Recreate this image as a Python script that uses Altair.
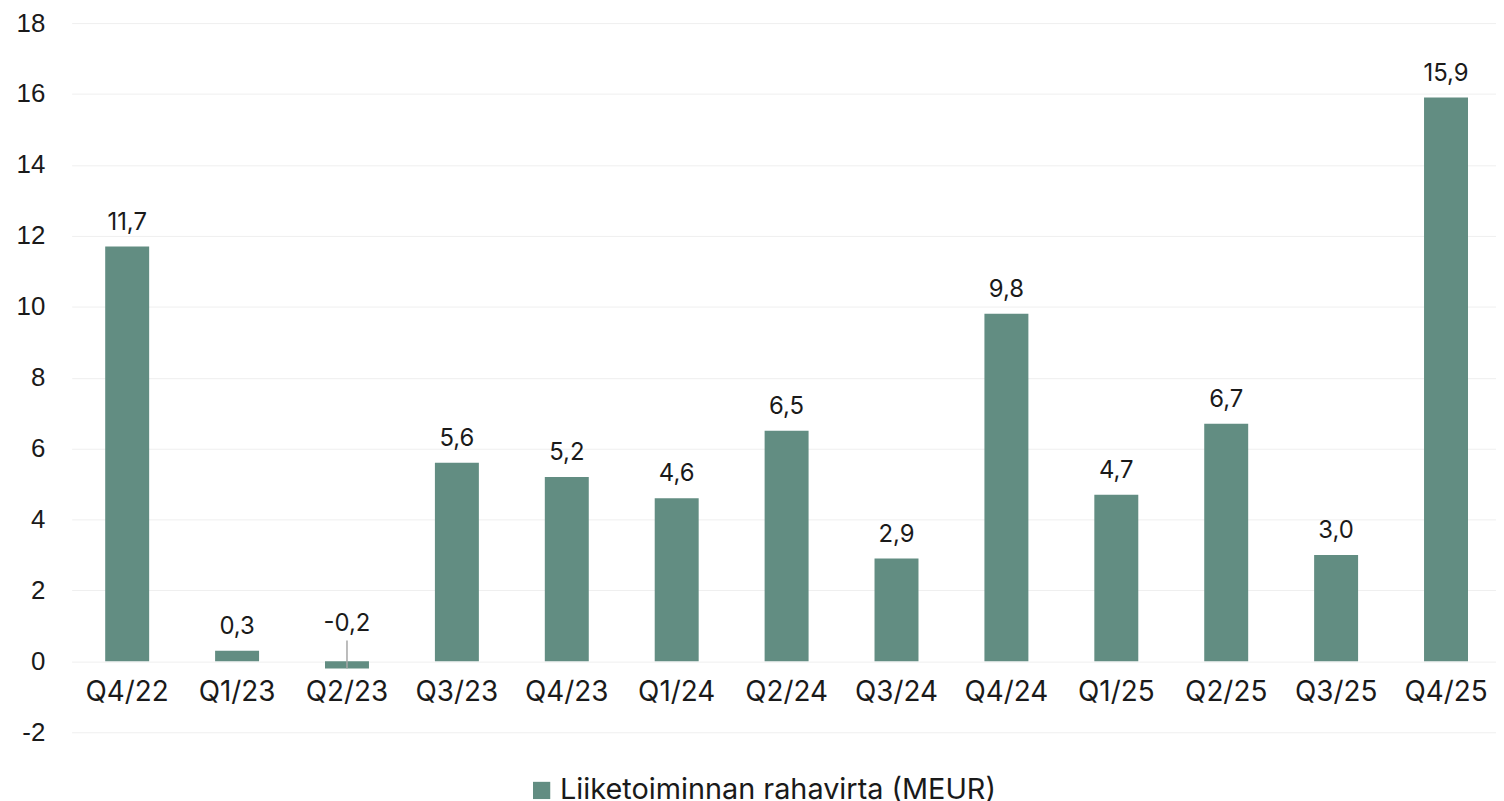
import altair as alt
import pandas as pd

quarters = ["Q4/22", "Q1/23", "Q2/23", "Q3/23", "Q4/23", "Q1/24", "Q2/24",
            "Q3/24", "Q4/24", "Q1/25", "Q2/25", "Q3/25", "Q4/25"]
values = [11.7, 0.3, -0.2, 5.6, 5.2, 4.6, 6.5, 2.9, 9.8, 4.7, 6.7, 3.0, 15.9]
series_name = "Liiketoiminnan rahavirta (MEUR)"
y_ticks = [-2, 0, 2, 4, 6, 8, 10, 12, 14, 16, 18]

BAR = "#628d82"
TXT = "#1a1a1a"
FONT = "Inter"

df = pd.DataFrame({
    "q": quarters,
    "v": values,
    "s": [series_name] * len(quarters),
    "label": [f"{v:.1f}".replace(".", ",") for v in values],
})

x_scale = alt.Scale(paddingInner=0.6, paddingOuter=0.28, align=0.545, round=False)
y_scale = alt.Scale(domain=[-2, 18], nice=False, zero=False)

bars = alt.Chart(df).mark_bar(color=BAR).encode(
    x=alt.X("q:N", sort=quarters, scale=x_scale,
            axis=alt.Axis(title=None, labelAngle=0, domain=False, ticks=False,
                          offset=-71, labelPadding=17, labelFont=FONT,
                          labelFontSize=28, labelColor=TXT, grid=False)),
    y=alt.Y("v:Q", scale=y_scale,
            axis=alt.Axis(title=None, values=y_ticks, domain=False, ticks=False,
                          labelExpr="datum.value", labelFont="Liberation Sans",
                          labelFontSize=26, labelColor=TXT, labelPadding=27,
                          minExtent=64, maxExtent=64, grid=True,
                          gridColor="#efefef", gridWidth=1)),
    y2=alt.datum(0),
    color=alt.Color("s:N", scale=alt.Scale(range=[BAR]),
                    legend=alt.Legend(title=None, orient="none",
                                      legendX=458, legendY=757,
                                      symbolType="square", symbolSize=300,
                                      symbolStrokeWidth=0,
                                      labelFont=FONT, labelFontSize=29,
                                      labelColor=TXT, labelLimit=700,
                                      symbolOffset=0)),
)

pos_labels = alt.Chart(df).transform_filter("datum.v >= 0").mark_text(
    font=FONT, fontSize=24, color=TXT, baseline="alphabetic", dy=-17
).encode(x=alt.X("q:N", sort=quarters),
         y=alt.Y("v:Q", scale=y_scale), text="label:N")

neg_labels = alt.Chart(df).transform_filter("datum.v < 0").transform_calculate(
    zero="0"
).mark_text(
    font=FONT, fontSize=24, color=TXT, baseline="alphabetic", dy=-30
).encode(x=alt.X("q:N", sort=quarters),
         y=alt.Y("zero:Q", scale=y_scale), text="label:N")

leader = alt.Chart(df).transform_filter("datum.v < 0").transform_calculate(
    zero="0"
).mark_rule(
    color="#a6a6a6", strokeWidth=1.5, y2Offset=-21
).encode(x=alt.X("q:N", sort=quarters),
         y=alt.Y("v:Q", scale=y_scale), y2=alt.Y2("zero:Q"))

chart = alt.layer(bars, leader, pos_labels, neg_labels).properties(
    width=1432, height=713, background="white",
    padding={"left": 0, "top": 0, "right": 0, "bottom": 0},
).configure_view(stroke="transparent", strokeWidth=0).configure_axis(
    domain=False, ticks=False
).configure_axisX(grid=False)

chart.save("out.html", embed_options={"renderer": "svg", "actions": False})
